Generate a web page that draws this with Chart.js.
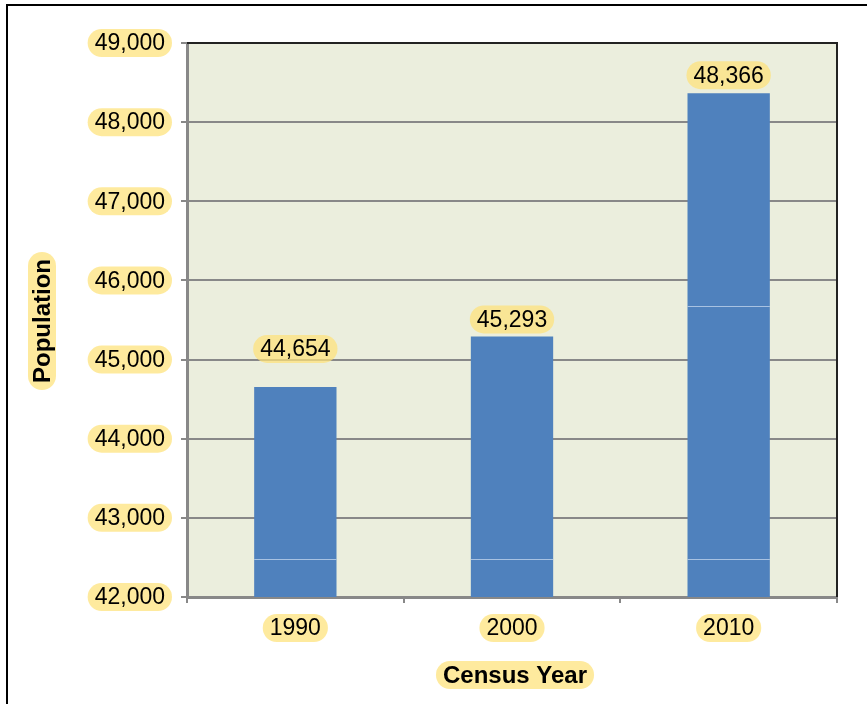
<!DOCTYPE html>
<html>
<head>
<meta charset="utf-8">
<script src="https://cdn.jsdelivr.net/npm/chart.js@4.4.1/dist/chart.umd.min.js"></script>
<style>
    html, body { margin: 0; padding: 0; background: #fff; }
    #wrap { position: relative; width: 867px; height: 704px; }
</style>
</head>
<body>
<div id="wrap"><canvas id="popChart" width="867" height="704"></canvas></div>
<script>
// census figures
var years = ['1990', '2000', '2010'];
var population = [44654, 45293, 48366];
var yTicks = [42000, 43000, 44000, 45000, 46000, 47000, 48000, 49000];
// faint seams visible across the columns
var seams = [[42480], [42480], [42480, 45680]];
// extra lift of each value badge above its column
var labelLift = [38, 17, 18];

var FONT = '"Liberation Sans", Arial, Helvetica, sans-serif';
var BADGE = 'rgba(254, 226, 120, 0.72)';

const fmt = function (v) {
    return v.toLocaleString('en-US');
}

// yellow pill behind a piece of text
const badge = function (ctx, text, x, y, font, align, rotate) {
    ctx.save();
    ctx.font = font;
    var w = ctx.measureText(text).width;
    var h = 28, padX = 7;
    ctx.translate(x, y);
    if (rotate) ctx.rotate(-Math.PI / 2);
    var left = align === 'right' ? -w - padX : -w / 2 - padX;
    var bw = w + padX * 2;
    ctx.fillStyle = BADGE;
    ctx.beginPath();
    ctx.roundRect(left, -h / 2, bw, h, h / 2);
    ctx.fill();
    ctx.fillStyle = '#000';
    ctx.textBaseline = 'middle';
    ctx.textAlign = 'center';
    ctx.fillText(text, left + bw / 2, 1);
    ctx.restore();
}

const decorPlugin = {
    id: 'decor',
    beforeDraw: function (chart) {
        var ctx = chart.ctx, a = chart.chartArea;
        ctx.save();
        ctx.fillStyle = '#ebeedd';
        ctx.fillRect(a.left, a.top, a.right - a.left, a.bottom - a.top);
        // page frame, cut off on the right and bottom
        ctx.strokeStyle = '#000';
        ctx.lineWidth = 2;
        ctx.beginPath();
        ctx.moveTo(7, 704);
        ctx.lineTo(7, 5);
        ctx.lineTo(867, 5);
        ctx.stroke();
        ctx.restore();
    },
    afterDatasetsDraw: function (chart) {
        var ctx = chart.ctx, a = chart.chartArea;
        var ys = chart.scales.y, xs = chart.scales.x;
        var meta = chart.getDatasetMeta(0);
        ctx.save();
        // seams across the columns
        ctx.strokeStyle = 'rgba(190, 210, 235, 0.8)';
        ctx.lineWidth = 1;
        meta.data.forEach(function (bar, i) {
            seams[i].forEach(function (v) {
                var py = Math.round(ys.getPixelForValue(v)) + 0.5;
                ctx.beginPath();
                ctx.moveTo(bar.x - bar.width / 2, py);
                ctx.lineTo(bar.x + bar.width / 2, py);
                ctx.stroke();
            });
        });
        // top and right edges of the plot
        ctx.strokeStyle = '#222';
        ctx.lineWidth = 2;
        ctx.beginPath();
        ctx.moveTo(a.left, a.top);
        ctx.lineTo(a.right, a.top);
        ctx.lineTo(a.right, a.bottom);
        ctx.stroke();
        ctx.restore();

        var tickFont = '23px ' + FONT;
        var titleFont = 'bold 24px ' + FONT;
        yTicks.forEach(function (v) {
            badge(ctx, fmt(v), a.left - 22, ys.getPixelForValue(v), tickFont, 'right');
        });
        years.forEach(function (y, i) {
            badge(ctx, y, xs.getPixelForValue(i), a.bottom + 31, tickFont, 'center');
        });
        meta.data.forEach(function (bar, i) {
            badge(ctx, fmt(population[i]), bar.x, bar.y - labelLift[i], tickFont, 'center');
        });
        badge(ctx, 'Census Year', (a.left + a.right) / 2 + 3, a.bottom + 78, titleFont, 'center');
        badge(ctx, 'Population', 42, 321, titleFont, 'center', true);
    }
}

new Chart(document.getElementById('popChart').getContext('2d'), {
    type: 'bar',
    data: {
        labels: years,
        datasets: [{
            data: population,
            backgroundColor: '#4f81bd',
            borderWidth: 0,
            barPercentage: 0.38,
            categoryPercentage: 1.0
        }]
    },
    options: {
        responsive: false,
        animation: false,
        layout: { padding: { left: 181, top: 43, right: 30, bottom: 101 } },
        plugins: {
            legend: { display: false },
            tooltip: { enabled: false }
        },
        scales: {
            x: {
                grid: {
                    offset: true,
                    drawOnChartArea: false,
                    color: '#888',
                    lineWidth: 2,
                    tickLength: 6
                },
                border: { color: '#888', width: 3 },
                ticks: { display: false }
            },
            y: {
                min: 42000,
                max: 49000,
                afterBuildTicks: function (scale) {
                    scale.ticks = yTicks.map(function (v) { return { value: v }; });
                },
                grid: {
                    color: '#888',
                    lineWidth: 2,
                    tickLength: 6
                },
                border: { color: '#888', width: 3 },
                ticks: { display: false }
            }
        }
    },
    plugins: [decorPlugin]
});
</script>
</body>
</html>
